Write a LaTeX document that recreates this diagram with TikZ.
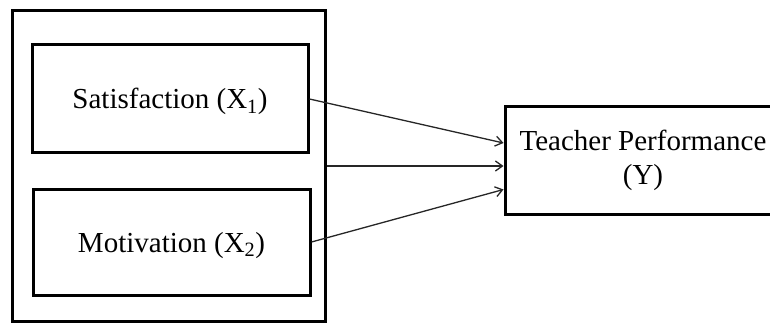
\documentclass[tikz,border=0pt]{standalone}
\usepackage{fontspec}
\setmainfont{Liberation Serif}
\usetikzlibrary{arrows.meta}

\begin{document}
\begin{tikzpicture}[x=1pt, y=-1pt,
        box/.style={draw, line width=3pt, inner sep=0pt, font=\fontsize{29}{34}\selectfont, align=center},
        arr/.style={draw=black!85, line width=1.3pt, -{Straight Barb[length=7pt, width=10pt]}}]
        \clip (0,0) rectangle (770,323);
        \node[box, minimum width=313, minimum height=310] (group) at (168.5,166) {};
        \node[box, minimum width=276, minimum height=108, text height=24pt, text depth=4pt] (sat) at (170,99) {Satisfaction (X\textsubscript{1})};
        \node[box, minimum width=277, minimum height=106, text height=24pt, text depth=4pt] (mot) at (171.5,242) {Motivation (X\textsubscript{2})};
        \node[box, minimum width=276, minimum height=107] (perf) at (643,160.5) {\raisebox{-4pt}{Teacher Performance}\\\raisebox{-4pt}{(Y)}};
        \draw[arr] (sat.east) -- ([yshift=17.5pt]perf.west);
        \draw[arr] (group.east) -- (group.east -| perf.west);
        \draw[arr] (mot.east) -- ([yshift=-29pt]perf.west);
    \end{tikzpicture}
\end{document}
